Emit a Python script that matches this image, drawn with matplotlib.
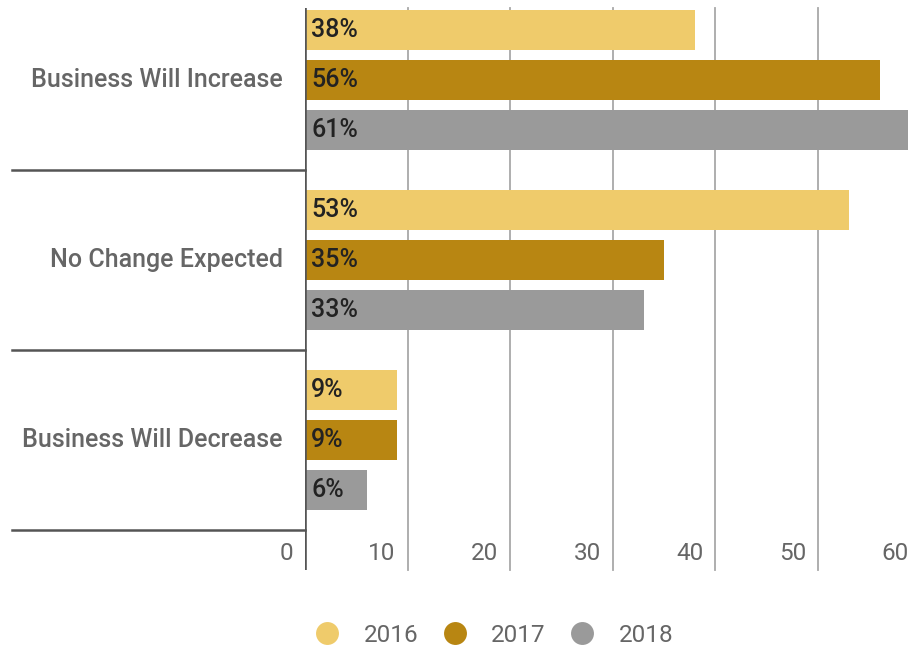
import matplotlib.pyplot as plt
from matplotlib.lines import Line2D
import matplotlib.transforms as mtransforms
import numpy as np

categories = ["Business Will Increase", "No Change Expected", "Business Will Decrease"]
years = ["2016", "2017", "2018"]
values_2016 = [38, 53, 9]
values_2017 = [56, 35, 9]
values_2018 = [61, 33, 6]
ticks = [0, 10, 20, 30, 40, 50, 60]

colors = ["#efcb6b", "#b88612", "#9a9a9a"]

plt.rcParams["font.family"] = ["Roboto", "DejaVu Sans"]

W, H = 908, 649
fig = plt.figure(figsize=(W / 100, H / 100), dpi=100)
# plot area runs past the right edge so the 61% bar is cut off
ax = fig.add_axes([305 / W, (H - 570) / H, 603 / W, 562 / H])
ax.set_xlim(0, 603 / 10.26)
ax.set_ylim(2.722, -0.4)
for s in ax.spines.values():
    s.set_visible(False)
ax.set_xticks([])
ax.set_yticks([])

y = np.arange(len(categories))
offsets = [-50 / 180, 0, 50 / 180]
bar_h = 40 / 180
series = [values_2016, values_2017, values_2018]
for vals, off, col in zip(series, offsets, colors):
    ax.barh(y + off, vals, height=bar_h, color=col, edgecolor="none", zorder=2)
    for yi, v in zip(y, vals):
        ax.annotate(f"{v}%", (0, yi + off), xytext=(4.5, 0), textcoords="offset points",
                    ha="left", va="center", fontsize=18, fontweight="medium",
                    color="#222222", zorder=4)

# vertical gridlines
for t in ticks[1:]:
    ax.axvline(t, color="#a8a8a8", lw=1.3, zorder=1, clip_on=False)
ax.axvline(0, color="#555555", lw=2.6, zorder=3)

# tick labels sit just left of each gridline
lbl_tr = ax.transData + mtransforms.ScaledTranslation(-12 / 100, 0, fig.dpi_scale_trans)
for t in ticks:
    ax.text(t, 2.628, str(t), transform=lbl_tr, ha="right", va="center",
            fontsize=17.5, color="#666666", clip_on=False)

# category separators and labels to the left of the axis
sep_tr = mtransforms.blended_transform_factory(ax.transAxes, ax.transData)
x_left = (12 - 305) / 603
for b in [0.5, 1.5, 2.5]:
    ax.add_line(Line2D([x_left, 0], [b, b], transform=sep_tr, color="#555555",
                       lw=1.8, clip_on=False))
cat_tr = ax.transData + mtransforms.ScaledTranslation(-22 / 100, 0, fig.dpi_scale_trans)
for yi, name in zip(y, categories):
    ax.text(0, yi, name, transform=cat_tr, ha="right", va="center", fontsize=18,
            fontweight="medium", color="#666666")

handles = [Line2D([], [], ls="none", marker="o", markersize=16.5, markerfacecolor=c,
                  markeredgecolor="none") for c in colors]
fig.legend(handles, years, loc="center", bbox_to_anchor=(494 / W, 1 - 635 / H), ncol=3,
           frameon=False, fontsize=17.5, labelcolor="#666666", handlelength=1.0,
           handletextpad=1.0, columnspacing=1.0)

fig.savefig("out.png", dpi=100)
